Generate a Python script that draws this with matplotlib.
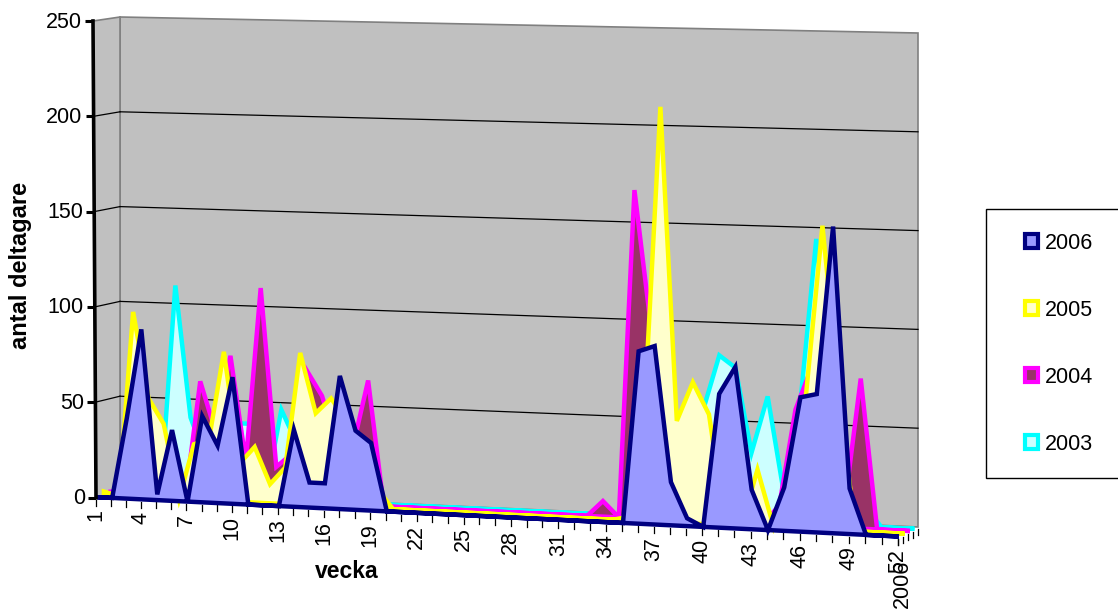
import numpy as np
import matplotlib
matplotlib.use('Agg')
import matplotlib.pyplot as plt
from matplotlib.patches import Patch, Polygon, Rectangle
from matplotlib.transforms import Transform

plt.rcParams['font.family'] = ['Liberation Sans', 'DejaVu Sans']

weeks = np.arange(1, 53)
y_ticks = [0, 50, 100, 150, 200, 250]
x_ticks = list(range(1, 53, 3))
series_names = ['2006', '2005', '2004', '2003']

v2006 = [0, 0, 42, 89, 3, 37, 0, 45, 30, 66, 0, 0, 0, 40, 13, 13, 69, 41, 35, 0,
         0, 0, 0, 0, 0, 0, 0, 0, 0, 0, 0, 0, 0, 0, 0, 88, 91, 22, 4, 0,
         68, 82, 20, 0, 22, 68, 70, 155, 23, 0, 0, 0]
v2005 = [2, 0, 97, 52, 39, 0, 29, 32, 78, 20, 29, 10, 19, 79, 48, 56, 45, 30, 10, 0,
         0, 0, 0, 0, 0, 0, 0, 0, 0, 0, 0, 0, 0, 0, 2, 60, 212, 52, 72, 56,
         0, 0, 29, 0, 20, 69, 154, 70, 0, 0, 0, 0]
v2004 = [1, 2, 0, 0, 0, 0, 61, 35, 75, 20, 111, 18, 25, 69, 56, 30, 30, 65, 0, 0,
         0, 0, 0, 0, 0, 0, 0, 0, 0, 0, 0, 0, 8, 0, 168, 100, 40, 30, 30, 48,
         30, 20, 0, 10, 59, 81, 60, 10, 76, 0, 0, 0]
v2003 = [0, 0, 0, 0, 110, 41, 20, 20, 39, 39, 5, 47, 30, 20, 20, 20, 20, 10, 0, 0,
         0, 0, 0, 0, 0, 0, 0, 0, 0, 0, 0, 0, 0, 0, 0, 0, 0, 0, 56, 84,
         78, 35, 64, 15, 60, 145, 60, 10, 10, 0, 0, 0]
series_values = [v2006, v2005, v2004, v2003]
depths = [0.05, 0.33, 0.6, 0.82]
edge_colors = ['#000080', '#FFFF00', '#FF00FF', '#00FFFF']
fill_colors = ['#9999FF', '#FFFFCC', '#993366', '#CCFFFF']

# pixel corners of the front and back planes of the 3d box
front = {'bl': (96, 497.5), 'tl': (93, 21), 'br': (898, 537), 'tr': (898, 40.5)}
back = {'bl': (120, 491), 'tl': (120, 17), 'br': (918, 527), 'tr': (918, 33)}


def project(week, value, depth):
    week = np.asarray(week, dtype=float)
    value = np.asarray(value, dtype=float)
    u = (week - 1) / 51
    t = u / (u + 1.05 * (1 - u))
    out = []
    for i in range(2):
        bl = front['bl'][i] + depth * (back['bl'][i] - front['bl'][i])
        tl = front['tl'][i] + depth * (back['tl'][i] - front['tl'][i])
        br = front['br'][i] + depth * (back['br'][i] - front['br'][i])
        tr = front['tr'][i] + depth * (back['tr'][i] - front['tr'][i])
        bottom = bl + t * (br - bl)
        top = tl + t * (tr - tl)
        out.append(bottom + value / 250 * (top - bottom))
    return out


class Plane(Transform):
    input_dims = 2
    output_dims = 2
    is_affine = False

    def __init__(self, plane_depth):
        super().__init__()
        self.plane_depth = plane_depth

    def transform_non_affine(self, values):
        values = np.asarray(values, dtype=float)
        x, y = project(values[:, 0], values[:, 1], self.plane_depth)
        return np.column_stack([x, y])


fig = plt.figure(figsize=(11.18, 6.12), dpi=100)
ax = fig.add_axes([0, 0, 1, 1])
ax.set_xlim(0, 1118)
ax.set_ylim(612, 0)
ax.set_autoscale_on(False)
ax.axis('off')

# walls
wall = Plane(1) + ax.transData
ax.add_patch(Polygon([(1, 0), (52, 0), (52, 250), (1, 250)], closed=True, transform=wall,
                     facecolor='#C0C0C0', edgecolor='#808080', lw=1.2, zorder=1))
side_x, side_y = project([1, 1, 1, 1], [0, 250, 250, 0], 0)
side_x[2:], side_y[2:] = project([1, 1], [250, 0], 1)
ax.fill(side_x, side_y, facecolor='#C0C0C0', edgecolor='#808080', lw=1.2, zorder=1)

for v in y_ticks[1:-1]:
    ax.plot([1, 52], [v, v], color='black', lw=0.9, transform=wall, zorder=2)
for v in y_ticks:
    x0, y0 = project(1, v, 0)
    x1, y1 = project(1, v, 1)
    if 0 < v < 250:
        ax.plot([x0, x1], [y0, y1], color='black', lw=0.9, zorder=2)
    ax.plot([x0 - 8, x0], [y0, y0], color='black', lw=2.2, zorder=8, solid_capstyle='butt')
    ax.text(x0 - 11, y0 + 1, str(v), ha='right', va='center', fontsize=15.5, zorder=9)
x0, y0 = project([1, 1], [0, 250], 0)
ax.plot(x0, y0, color='black', lw=2.6, zorder=8, solid_capstyle='projecting')

# areas, back series first
for name, vals, depth, ec, fc in reversed(list(zip(series_names, series_values, depths,
                                                   edge_colors, fill_colors))):
    pts = np.column_stack([np.r_[weeks, 52, 1], np.r_[vals, 0, 0]])
    ax.add_patch(Polygon(pts, closed=True, transform=Plane(depth) + ax.transData,
                         facecolor=fc, edgecolor=ec, lw=3.2, joinstyle='miter', zorder=3))

# category ticks and labels
for w in weeks:
    x, y = project(w, 0, 0)
    ax.plot([x, x], [y + 2, y + 8], color='black', lw=0.9, zorder=2)
    if w in x_ticks:
        ax.text(x, y + 12, str(w), rotation=90, ha='center', va='top', fontsize=15.5)

# series axis ticks
for d in np.linspace(0, 1, 5):
    x, y = project(52, 0, d)
    ax.plot([x, x], [y + 2, y + 8], color='black', lw=0.9, zorder=2)
x, y = project(52, 0, 0)
ax.text(x + 4, 608, '2006', rotation=90, ha='center', va='bottom', fontsize=15.5)

ax.text(21, 265, 'antal deltagare', rotation=90, ha='center', va='center',
        fontsize=17, fontweight='bold')
ax.text(347, 571, 'vecka', ha='center', va='center', fontsize=16.5, fontweight='bold')

# legend box runs off the right edge of the picture
ax.add_patch(Rectangle((986, 209), 140, 269, facecolor='white', edgecolor='black', lw=1, zorder=2))
handles = [Patch(facecolor=fc, edgecolor=ec, lw=3) for ec, fc in zip(edge_colors, fill_colors)]
ax.legend(handles, series_names, loc='upper left', bbox_to_anchor=(1001, 209),
          bbox_transform=ax.transData, fontsize=15.5, frameon=False, borderpad=1.1,
          borderaxespad=0, labelspacing=2.14, handlelength=0.62, handleheight=0.62,
          handletextpad=0.3)

plt.savefig('out.png', dpi=100)
